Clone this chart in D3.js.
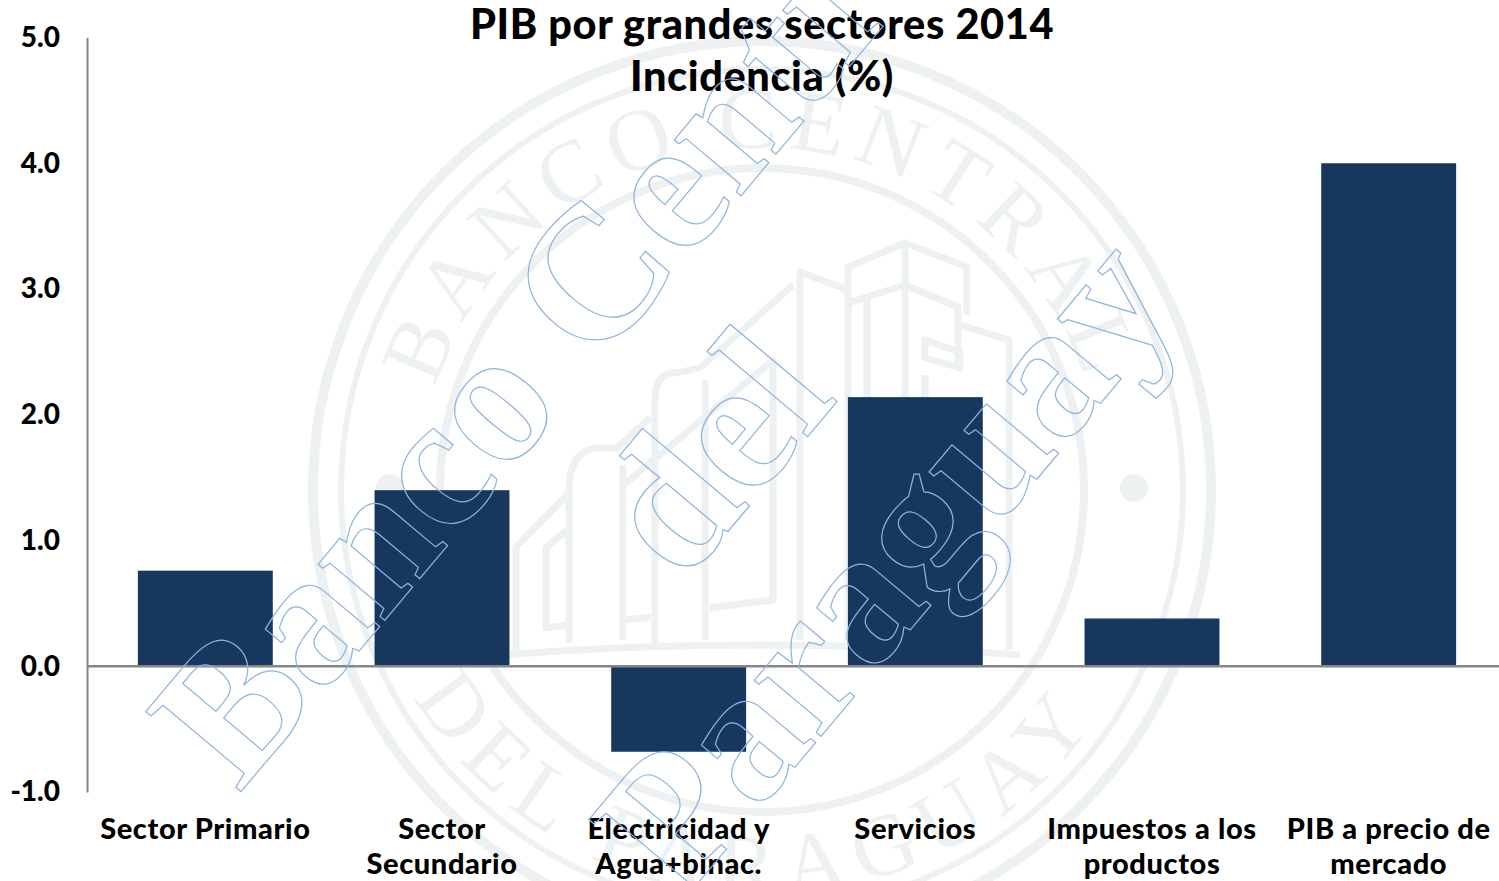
<!DOCTYPE html>
<html><head><meta charset="utf-8">
<script src="https://cdn.jsdelivr.net/npm/d3@7"></script>
<style>html,body{margin:0;padding:0;background:#fff;overflow:hidden}svg{display:block}</style>
</head><body><div id="c"></div>
<script>
const categories = ["Sector Primario","Sector|Secundario","Electricidad y|Agua+binac.","Servicios","Impuestos a los|productos","PIB a precio de|mercado"];
const values = [0.76,1.40,-0.68,2.14,0.38,4.0];
const yTicks = [-1,0,1,2,3,4,5];
const titleLines = ["PIB por grandes sectores 2014","Incidencia (%)"];
const wmLines = [{t:"Banco Central",x:239,y:794},{t:"del",x:683,y:585},{t:"Paraguay",x:682,y:902}];

const W=1499,H=881,sealC="#edf1f2",cx=762,cy=490;
const svg=d3.select("#c").append("svg").attr("width",W).attr("height",H);
const x=d3.scaleBand().domain(categories).range([87,1507]).paddingInner(0.43).paddingOuter(0.215);
const y=d3.scaleLinear().domain([-1,5]).range([792,37.5]);

// seal
const seal=svg.append("g").attr("fill","none").attr("stroke",sealC);
[[449,10],[421,6],[322,8]].forEach(([r,w])=>seal.append("circle").attr("cx",cx).attr("cy",cy).attr("r",r).attr("stroke-width",w));
const defs=svg.append("defs");
const arcP=(r,a0,a1,ccw)=>{const p=d3.path();p.arc(cx,cy,r,a0,a1,ccw);return p.toString();};
defs.append("path").attr("id","arcTop").attr("d",arcP(342,Math.PI*1.02,Math.PI*1.98,false));
defs.append("path").attr("id","arcBot").attr("d",arcP(405,Math.PI*0.86,Math.PI*0.14,true));
const st=svg.append("g").attr("fill",sealC).attr("font-family","'Liberation Serif',serif");
st.append("text").attr("font-size",88).attr("letter-spacing",10).append("textPath").attr("href","#arcTop").attr("startOffset","50%").attr("text-anchor","middle").text("BANCO CENTRAL");
st.append("text").attr("font-size",88).attr("letter-spacing",13).append("textPath").attr("href","#arcBot").attr("startOffset","49%").attr("text-anchor","middle").text("DEL PARAGUAY");
[390,1134].forEach(d=>st.append("circle").attr("cx",d).attr("cy",488).attr("r",14));
const bld=[
"M848,640V267L905,243L967,267V315","M848,303L905,285L958,307V370","M905,243V640","M867,297V640",
"M800,640V272L848,290","M793,285L701,367Q680,373 672,373Q655,375 655,400V643",
"M651,417L617,448H596Q569,452 569,490V643","M569,493L516,547V650",
"M567,530L546,548V628L567,625","M626,483L773,360V600L709,608","M651,617L626,620","M705,380V640","M623,465V640",
"M960,325L1009,340V650","M925,340L960,352V368L925,358Z","M925,375V430L945,432","M500,655Q762,635 1020,655"];
seal.append("g").attr("stroke-width",7).attr("stroke-linejoin","round").selectAll("path").data(bld).join("path").attr("d",d=>d);

// bars
svg.append("g").selectAll("rect").data(values).join("rect")
 .attr("x",(d,i)=>x(categories[i])).attr("width",x.bandwidth())
 .attr("y",d=>y(Math.max(0,d))).attr("height",d=>Math.abs(y(d)-y(0)))
 .attr("fill","#17375e");

// axes
const font="Lato, 'Open Sans', sans-serif";
const ya=svg.append("g").attr("transform","translate(87,0)").call(d3.axisLeft(y).tickValues(yTicks).tickFormat(d=>d3.format(".1f")(d).replace("\u2212","-")).tickSize(0).tickPadding(27));
ya.select(".domain").attr("stroke","#868686").attr("stroke-width",2);
ya.selectAll("text").attr("font-family",font).attr("font-weight",900).attr("font-size",28).attr("fill","#000");
svg.append("line").attr("x1",87).attr("x2",W).attr("y1",y(0)).attr("y2",y(0)).attr("stroke","#868686").attr("stroke-width",2.5);

const xl=svg.append("g").attr("font-family",font).attr("font-weight",900).attr("font-size",29).attr("letter-spacing",0.6).attr("text-anchor","middle").attr("fill","#000");
categories.forEach(c=>{
 const t=xl.append("text").attr("x",x(c)+x.bandwidth()/2).attr("y",839);
 c.split("|").forEach((s,i)=>t.append("tspan").attr("x",x(c)+x.bandwidth()/2).attr("y",839+i*35).text(s));
});
svg.append("g").attr("font-family",font).attr("font-weight",900).attr("font-size",41.5).attr("letter-spacing",0.6).attr("text-anchor","middle").attr("fill","#000")
 .selectAll("text").data(titleLines).join("text").attr("x",762).attr("y",(d,i)=>39+i*52).text(d=>d);

// watermark
svg.append("g").attr("fill","none").attr("stroke","#8db4e2").attr("stroke-width",1.2)
 .attr("font-family","'Liberation Serif',serif").attr("font-weight",700).attr("font-size",190)
 .selectAll("text").data(wmLines).join("text")
 .attr("transform",d=>`translate(${d.x},${d.y}) rotate(-50)`).text(d=>d.t);
</script></body></html>
